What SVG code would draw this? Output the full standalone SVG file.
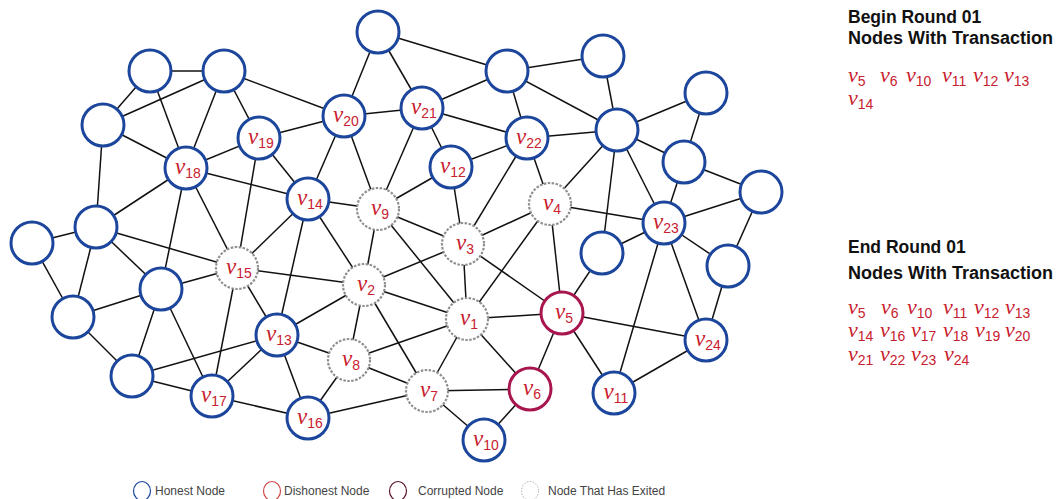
<svg xmlns="http://www.w3.org/2000/svg" width="1060" height="499" viewBox="0 0 1060 499">
<style>
.e{stroke:#111;stroke-width:1.5}
.h{fill:#fff;stroke:#1C469C;stroke-width:3}
.c{fill:#fff;stroke:#A8164F;stroke-width:3}
.x{fill:#fff;stroke:#8f8f8f;stroke-width:2.2;stroke-dasharray:2.5 1.5}
.l{font-family:"Liberation Serif",serif;font-style:italic;font-size:23px;fill:#C8202E;text-anchor:middle}
.s{font-style:normal;font-family:"Liberation Sans",sans-serif;font-size:14px}
.t{font-family:"Liberation Sans",sans-serif;font-weight:bold;font-size:17.5px;fill:#111}
.m{font-family:"Liberation Serif",serif;font-style:italic;font-size:22px;fill:#C8202E}
.ms{font-style:normal;font-family:"Liberation Sans",sans-serif;font-size:14px}
.g{font-family:"Liberation Sans",sans-serif;font-size:12px;fill:#444}
</style>
<rect width="1060" height="499" fill="#fff"/>
<g id="connectors">
<line class="e" x1="150" y1="71" x2="224" y2="71"/>
<line class="e" x1="150" y1="71" x2="103" y2="125"/>
<line class="e" x1="150" y1="71" x2="186" y2="168"/>
<line class="e" x1="224" y1="71" x2="103" y2="125"/>
<line class="e" x1="224" y1="71" x2="186" y2="168"/>
<line class="e" x1="224" y1="71" x2="259" y2="138"/>
<line class="e" x1="224" y1="71" x2="344" y2="116"/>
<line class="e" x1="103" y1="125" x2="186" y2="168"/>
<line class="e" x1="103" y1="125" x2="96" y2="227"/>
<line class="e" x1="186" y1="168" x2="259" y2="138"/>
<line class="e" x1="259" y1="138" x2="344" y2="116"/>
<line class="e" x1="186" y1="168" x2="308" y2="199"/>
<line class="e" x1="186" y1="168" x2="96" y2="227"/>
<line class="e" x1="186" y1="168" x2="161" y2="289"/>
<line class="e" x1="186" y1="168" x2="237" y2="268"/>
<line class="e" x1="259" y1="138" x2="237" y2="268"/>
<line class="e" x1="259" y1="138" x2="308" y2="199"/>
<line class="e" x1="308" y1="199" x2="344" y2="116"/>
<line class="e" x1="308" y1="199" x2="378" y2="209"/>
<line class="e" x1="308" y1="199" x2="237" y2="268"/>
<line class="e" x1="308" y1="199" x2="277" y2="335"/>
<line class="e" x1="308" y1="199" x2="364" y2="285"/>
<line class="e" x1="96" y1="227" x2="32" y2="243"/>
<line class="e" x1="96" y1="227" x2="73" y2="317"/>
<line class="e" x1="96" y1="227" x2="161" y2="289"/>
<line class="e" x1="96" y1="227" x2="237" y2="268"/>
<line class="e" x1="32" y1="243" x2="73" y2="317"/>
<line class="e" x1="161" y1="289" x2="73" y2="317"/>
<line class="e" x1="161" y1="289" x2="132" y2="376"/>
<line class="e" x1="161" y1="289" x2="212" y2="396"/>
<line class="e" x1="161" y1="289" x2="237" y2="268"/>
<line class="e" x1="73" y1="317" x2="132" y2="376"/>
<line class="e" x1="132" y1="376" x2="277" y2="335"/>
<line class="e" x1="132" y1="376" x2="212" y2="396"/>
<line class="e" x1="237" y1="268" x2="212" y2="396"/>
<line class="e" x1="237" y1="268" x2="277" y2="335"/>
<line class="e" x1="237" y1="268" x2="364" y2="285"/>
<line class="e" x1="277" y1="335" x2="212" y2="396"/>
<line class="e" x1="277" y1="335" x2="308" y2="418"/>
<line class="e" x1="277" y1="335" x2="349" y2="360"/>
<line class="e" x1="277" y1="335" x2="364" y2="285"/>
<line class="e" x1="212" y1="396" x2="308" y2="418"/>
<line class="e" x1="308" y1="418" x2="349" y2="360"/>
<line class="e" x1="308" y1="418" x2="427" y2="391"/>
<line class="e" x1="378" y1="32" x2="344" y2="116"/>
<line class="e" x1="378" y1="32" x2="422" y2="108"/>
<line class="e" x1="378" y1="32" x2="507" y2="71"/>
<line class="e" x1="344" y1="116" x2="422" y2="108"/>
<line class="e" x1="344" y1="116" x2="378" y2="209"/>
<line class="e" x1="422" y1="108" x2="507" y2="71"/>
<line class="e" x1="422" y1="108" x2="527" y2="138"/>
<line class="e" x1="422" y1="108" x2="451" y2="167"/>
<line class="e" x1="422" y1="108" x2="378" y2="209"/>
<line class="e" x1="507" y1="71" x2="603" y2="56"/>
<line class="e" x1="507" y1="71" x2="527" y2="138"/>
<line class="e" x1="507" y1="71" x2="617" y2="130"/>
<line class="e" x1="527" y1="138" x2="617" y2="130"/>
<line class="e" x1="527" y1="138" x2="451" y2="167"/>
<line class="e" x1="527" y1="138" x2="550" y2="204"/>
<line class="e" x1="527" y1="138" x2="463" y2="244"/>
<line class="e" x1="451" y1="167" x2="378" y2="209"/>
<line class="e" x1="451" y1="167" x2="463" y2="244"/>
<line class="e" x1="378" y1="209" x2="463" y2="244"/>
<line class="e" x1="378" y1="209" x2="364" y2="285"/>
<line class="e" x1="378" y1="209" x2="467" y2="319"/>
<line class="e" x1="550" y1="204" x2="617" y2="130"/>
<line class="e" x1="550" y1="204" x2="664" y2="223"/>
<line class="e" x1="550" y1="204" x2="463" y2="244"/>
<line class="e" x1="550" y1="204" x2="562" y2="313"/>
<line class="e" x1="550" y1="204" x2="467" y2="319"/>
<line class="e" x1="617" y1="130" x2="706" y2="93"/>
<line class="e" x1="617" y1="130" x2="684" y2="162"/>
<line class="e" x1="617" y1="130" x2="664" y2="223"/>
<line class="e" x1="617" y1="130" x2="602" y2="253"/>
<line class="e" x1="603" y1="56" x2="617" y2="130"/>
<line class="e" x1="706" y1="93" x2="684" y2="162"/>
<line class="e" x1="684" y1="162" x2="761" y2="192"/>
<line class="e" x1="684" y1="162" x2="664" y2="223"/>
<line class="e" x1="761" y1="192" x2="664" y2="223"/>
<line class="e" x1="761" y1="192" x2="728" y2="266"/>
<line class="e" x1="664" y1="223" x2="602" y2="253"/>
<line class="e" x1="664" y1="223" x2="614" y2="393"/>
<line class="e" x1="664" y1="223" x2="706" y2="340"/>
<line class="e" x1="664" y1="223" x2="728" y2="266"/>
<line class="e" x1="728" y1="266" x2="706" y2="340"/>
<line class="e" x1="706" y1="340" x2="562" y2="313"/>
<line class="e" x1="706" y1="340" x2="614" y2="393"/>
<line class="e" x1="562" y1="313" x2="602" y2="253"/>
<line class="e" x1="562" y1="313" x2="614" y2="393"/>
<line class="e" x1="562" y1="313" x2="530" y2="389"/>
<line class="e" x1="562" y1="313" x2="467" y2="319"/>
<line class="e" x1="562" y1="313" x2="463" y2="244"/>
<line class="e" x1="463" y1="244" x2="467" y2="319"/>
<line class="e" x1="463" y1="244" x2="364" y2="285"/>
<line class="e" x1="467" y1="319" x2="364" y2="285"/>
<line class="e" x1="467" y1="319" x2="349" y2="360"/>
<line class="e" x1="467" y1="319" x2="427" y2="391"/>
<line class="e" x1="467" y1="319" x2="530" y2="389"/>
<line class="e" x1="364" y1="285" x2="349" y2="360"/>
<line class="e" x1="364" y1="285" x2="427" y2="391"/>
<line class="e" x1="349" y1="360" x2="427" y2="391"/>
<line class="e" x1="427" y1="391" x2="530" y2="389"/>
<line class="e" x1="427" y1="391" x2="484" y2="440"/>
<line class="e" x1="530" y1="389" x2="484" y2="440"/>
</g>
<g id="nA"><circle class="h" cx="150" cy="71" r="21"/></g>
<g id="nB"><circle class="h" cx="224" cy="71" r="21"/></g>
<g id="nC"><circle class="h" cx="103" cy="125" r="21"/></g>
<g id="nD"><circle class="h" cx="96" cy="227" r="21"/></g>
<g id="nE"><circle class="h" cx="32" cy="243" r="21"/></g>
<g id="nF"><circle class="h" cx="161" cy="289" r="21"/></g>
<g id="nG"><circle class="h" cx="73" cy="317" r="21"/></g>
<g id="nH"><circle class="h" cx="132" cy="376" r="21"/></g>
<g id="nI"><circle class="h" cx="378" cy="32" r="21"/></g>
<g id="nJ"><circle class="h" cx="507" cy="71" r="21"/></g>
<g id="nK"><circle class="h" cx="603" cy="56" r="21"/></g>
<g id="nL"><circle class="h" cx="617" cy="130" r="21"/></g>
<g id="nM"><circle class="h" cx="706" cy="93" r="21"/></g>
<g id="nN"><circle class="h" cx="684" cy="162" r="21"/></g>
<g id="nO"><circle class="h" cx="761" cy="192" r="21"/></g>
<g id="nP"><circle class="h" cx="602" cy="253" r="21"/></g>
<g id="nQ"><circle class="h" cx="728" cy="266" r="21"/></g>
<g id="v1"><circle class="x" cx="467" cy="319" r="21"/><text class="l" x="469" y="325">v<tspan class="s" dy="4">1</tspan></text></g>
<g id="v2"><circle class="x" cx="364" cy="285" r="21"/><text class="l" x="366" y="291">v<tspan class="s" dy="4">2</tspan></text></g>
<g id="v3"><circle class="x" cx="463" cy="244" r="21"/><text class="l" x="465" y="250">v<tspan class="s" dy="4">3</tspan></text></g>
<g id="v4"><circle class="x" cx="550" cy="204" r="21"/><text class="l" x="552" y="210">v<tspan class="s" dy="4">4</tspan></text></g>
<g id="v5"><circle class="c" cx="562" cy="313" r="21"/><text class="l" x="564" y="319">v<tspan class="s" dy="4">5</tspan></text></g>
<g id="v6"><circle class="c" cx="530" cy="389" r="21"/><text class="l" x="532" y="395">v<tspan class="s" dy="4">6</tspan></text></g>
<g id="v7"><circle class="x" cx="427" cy="391" r="21"/><text class="l" x="429" y="397">v<tspan class="s" dy="4">7</tspan></text></g>
<g id="v8"><circle class="x" cx="349" cy="360" r="21"/><text class="l" x="351" y="366">v<tspan class="s" dy="4">8</tspan></text></g>
<g id="v9"><circle class="x" cx="378" cy="209" r="21"/><text class="l" x="380" y="215">v<tspan class="s" dy="4">9</tspan></text></g>
<g id="v10"><circle class="h" cx="484" cy="440" r="21"/><text class="l" x="486" y="446">v<tspan class="s" dy="4">10</tspan></text></g>
<g id="v11"><circle class="h" cx="614" cy="393" r="21"/><text class="l" x="616" y="399">v<tspan class="s" dy="4">11</tspan></text></g>
<g id="v12"><circle class="h" cx="451" cy="167" r="21"/><text class="l" x="453" y="173">v<tspan class="s" dy="4">12</tspan></text></g>
<g id="v13"><circle class="h" cx="277" cy="335" r="21"/><text class="l" x="279" y="341">v<tspan class="s" dy="4">13</tspan></text></g>
<g id="v14"><circle class="h" cx="308" cy="199" r="21"/><text class="l" x="310" y="205">v<tspan class="s" dy="4">14</tspan></text></g>
<g id="v15"><circle class="x" cx="237" cy="268" r="21"/><text class="l" x="239" y="274">v<tspan class="s" dy="4">15</tspan></text></g>
<g id="v16"><circle class="h" cx="308" cy="418" r="21"/><text class="l" x="310" y="424">v<tspan class="s" dy="4">16</tspan></text></g>
<g id="v17"><circle class="h" cx="212" cy="396" r="21"/><text class="l" x="214" y="402">v<tspan class="s" dy="4">17</tspan></text></g>
<g id="v18"><circle class="h" cx="186" cy="168" r="21"/><text class="l" x="188" y="174">v<tspan class="s" dy="4">18</tspan></text></g>
<g id="v19"><circle class="h" cx="259" cy="138" r="21"/><text class="l" x="261" y="144">v<tspan class="s" dy="4">19</tspan></text></g>
<g id="v20"><circle class="h" cx="344" cy="116" r="21"/><text class="l" x="346" y="122">v<tspan class="s" dy="4">20</tspan></text></g>
<g id="v21"><circle class="h" cx="422" cy="108" r="21"/><text class="l" x="424" y="114">v<tspan class="s" dy="4">21</tspan></text></g>
<g id="v22"><circle class="h" cx="527" cy="138" r="21"/><text class="l" x="529" y="144">v<tspan class="s" dy="4">22</tspan></text></g>
<g id="v23"><circle class="h" cx="664" cy="223" r="21"/><text class="l" x="666" y="229">v<tspan class="s" dy="4">23</tspan></text></g>
<g id="v24"><circle class="h" cx="706" cy="340" r="21"/><text class="l" x="708" y="346">v<tspan class="s" dy="4">24</tspan></text></g>
<g id="begin">
<text class="t" x="848" y="23">Begin Round 01</text>
<text class="t" x="848" y="44" textLength="205" lengthAdjust="spacingAndGlyphs">Nodes With Transaction</text>
<text class="m" y="82"><tspan x="848">v</tspan><tspan class="ms" dy="4">5</tspan><tspan x="880" dy="-4">v</tspan><tspan class="ms" dy="4">6</tspan><tspan x="906" dy="-4">v</tspan><tspan class="ms" dy="4">10</tspan><tspan x="942" dy="-4">v</tspan><tspan class="ms" dy="4">11</tspan><tspan x="973" dy="-4">v</tspan><tspan class="ms" dy="4">12</tspan><tspan x="1004" dy="-4">v</tspan><tspan class="ms" dy="4">13</tspan></text>
<text class="m" y="105"><tspan x="848">v</tspan><tspan class="ms" dy="4">14</tspan></text>
</g>
<g id="end">
<text class="t" x="848" y="253">End Round 01</text>
<text class="t" x="848" y="279" textLength="205" lengthAdjust="spacingAndGlyphs">Nodes With Transaction</text>
<text class="m" y="314"><tspan x="848">v</tspan><tspan class="ms" dy="4">5</tspan><tspan x="881" dy="-4">v</tspan><tspan class="ms" dy="4">6</tspan><tspan x="907" dy="-4">v</tspan><tspan class="ms" dy="4">10</tspan><tspan x="943" dy="-4">v</tspan><tspan class="ms" dy="4">11</tspan><tspan x="974" dy="-4">v</tspan><tspan class="ms" dy="4">12</tspan><tspan x="1005" dy="-4">v</tspan><tspan class="ms" dy="4">13</tspan></text>
<text class="m" y="337"><tspan x="848">v</tspan><tspan class="ms" dy="4">14</tspan><tspan x="880" dy="-4">v</tspan><tspan class="ms" dy="4">16</tspan><tspan x="911" dy="-4">v</tspan><tspan class="ms" dy="4">17</tspan><tspan x="943" dy="-4">v</tspan><tspan class="ms" dy="4">18</tspan><tspan x="975" dy="-4">v</tspan><tspan class="ms" dy="4">19</tspan><tspan x="1005" dy="-4">v</tspan><tspan class="ms" dy="4">20</tspan></text>
<text class="m" y="361"><tspan x="848">v</tspan><tspan class="ms" dy="4">21</tspan><tspan x="880" dy="-4">v</tspan><tspan class="ms" dy="4">22</tspan><tspan x="911" dy="-4">v</tspan><tspan class="ms" dy="4">23</tspan><tspan x="944" dy="-4">v</tspan><tspan class="ms" dy="4">24</tspan></text>
</g>
<g id="legend">
<ellipse cx="142" cy="491" rx="8.5" ry="9.5" fill="none" stroke="#1C469C" stroke-width="1.2"/>
<text class="g" x="155" y="495">Honest Node</text>
<ellipse cx="272" cy="491" rx="8.5" ry="9.5" fill="none" stroke="#D04848" stroke-width="1.2"/>
<text class="g" x="284" y="495">Dishonest Node</text>
<ellipse cx="398" cy="491" rx="8.5" ry="9.5" fill="none" stroke="#5A1428" stroke-width="1.2"/>
<text class="g" x="418" y="495">Corrupted Node</text>
<ellipse cx="530" cy="491" rx="8.5" ry="9.5" fill="none" stroke="#aaa" stroke-width="1" stroke-dasharray="1.5 1.5"/>
<text class="g" x="548" y="495">Node That Has Exited</text>
</g>
</svg>
